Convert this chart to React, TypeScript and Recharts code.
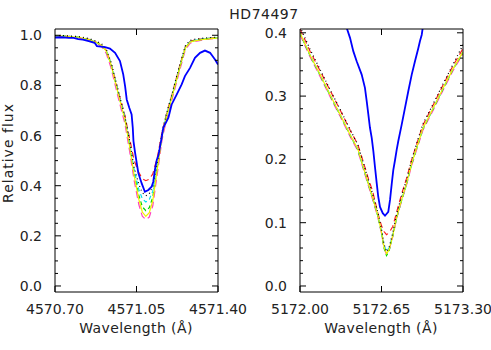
import React from 'react';
import { LineChart, Line, XAxis, YAxis } from 'recharts';

// Left panel: 4571 A line
const LEFT_WAVE = [4570.70, 4570.75, 4570.80, 4570.85, 4570.88, 4570.90, 4570.92, 4570.94, 4570.96, 4570.98, 4571.00, 4571.02, 4571.04, 4571.06, 4571.075, 4571.09, 4571.105, 4571.12, 4571.14, 4571.16, 4571.18, 4571.20, 4571.22, 4571.24, 4571.26, 4571.28, 4571.30, 4571.34, 4571.40];
const LEFT_MAGENTA = [0.997, 0.995, 0.990, 0.980, 0.967, 0.955, 0.928, 0.872, 0.795, 0.720, 0.648, 0.540, 0.420, 0.325, 0.278, 0.265, 0.275, 0.320, 0.452, 0.585, 0.668, 0.735, 0.805, 0.875, 0.943, 0.968, 0.975, 0.982, 0.989];
const LEFT_RED = [0.998, 0.996, 0.992, 0.983, 0.971, 0.961, 0.940, 0.890, 0.818, 0.748, 0.680, 0.590, 0.500, 0.452, 0.428, 0.420, 0.426, 0.447, 0.515, 0.615, 0.690, 0.755, 0.825, 0.893, 0.955, 0.975, 0.981, 0.987, 0.991];
const LEFT_GREEN = [0.998, 0.996, 0.992, 0.982, 0.970, 0.960, 0.938, 0.886, 0.812, 0.738, 0.668, 0.565, 0.450, 0.362, 0.316, 0.300, 0.312, 0.355, 0.478, 0.603, 0.682, 0.747, 0.817, 0.886, 0.951, 0.973, 0.979, 0.985, 0.990];
const LEFT_CYAN = [0.998, 0.996, 0.992, 0.982, 0.970, 0.960, 0.939, 0.888, 0.815, 0.742, 0.672, 0.572, 0.462, 0.385, 0.348, 0.335, 0.345, 0.378, 0.488, 0.607, 0.685, 0.750, 0.820, 0.888, 0.952, 0.974, 0.980, 0.986, 0.991];
const LEFT_YELLOW = [0.998, 0.996, 0.992, 0.982, 0.970, 0.960, 0.938, 0.885, 0.810, 0.735, 0.665, 0.560, 0.440, 0.345, 0.295, 0.278, 0.292, 0.340, 0.470, 0.600, 0.680, 0.745, 0.815, 0.885, 0.950, 0.972, 0.978, 0.984, 0.990];
const LEFT_BLACK = [0.999, 0.998, 0.995, 0.986, 0.975, 0.966, 0.945, 0.895, 0.822, 0.748, 0.678, 0.580, 0.472, 0.405, 0.372, 0.360, 0.368, 0.398, 0.497, 0.615, 0.692, 0.757, 0.828, 0.896, 0.958, 0.979, 0.984, 0.989, 0.993];

const LEFT_OBS_WAVE = [4570.700, 4570.730, 4570.760, 4570.780, 4570.800, 4570.820, 4570.845, 4570.870, 4570.880, 4570.915, 4570.936, 4570.958, 4570.979, 4570.993, 4571.001, 4571.008, 4571.019, 4571.029, 4571.034, 4571.037, 4571.044, 4571.058, 4571.072, 4571.086, 4571.101, 4571.115, 4571.122, 4571.129, 4571.137, 4571.144, 4571.158, 4571.165, 4571.187, 4571.201, 4571.223, 4571.244, 4571.258, 4571.280, 4571.301, 4571.323, 4571.344, 4571.366, 4571.387, 4571.400];
const LEFT_OBS = [0.991, 0.992, 0.990, 0.990, 0.985, 0.983, 0.977, 0.970, 0.957, 0.953, 0.947, 0.930, 0.897, 0.844, 0.797, 0.744, 0.711, 0.684, 0.631, 0.578, 0.531, 0.450, 0.410, 0.376, 0.383, 0.396, 0.416, 0.463, 0.503, 0.520, 0.591, 0.631, 0.671, 0.724, 0.764, 0.804, 0.837, 0.870, 0.910, 0.930, 0.939, 0.930, 0.903, 0.883];

// Right panel: 5172 A line
const RIGHT_WAVE = [5172.00, 5172.08, 5172.16, 5172.24, 5172.32, 5172.40, 5172.46, 5172.50, 5172.54, 5172.58, 5172.62, 5172.65, 5172.67, 5172.69, 5172.71, 5172.74, 5172.77, 5172.81, 5172.85, 5172.89, 5172.93, 5172.98, 5173.06, 5173.14, 5173.22, 5173.30];
const RIGHT_MAGENTA = [0.397, 0.362, 0.331, 0.299, 0.268, 0.236, 0.214, 0.188, 0.162, 0.136, 0.109, 0.083, 0.060, 0.050, 0.056, 0.078, 0.106, 0.134, 0.160, 0.190, 0.215, 0.246, 0.277, 0.309, 0.340, 0.367];
const RIGHT_RED = [0.406, 0.371, 0.340, 0.309, 0.278, 0.246, 0.224, 0.199, 0.173, 0.149, 0.116, 0.095, 0.086, 0.081, 0.084, 0.094, 0.116, 0.145, 0.170, 0.199, 0.224, 0.254, 0.285, 0.317, 0.348, 0.375];
const RIGHT_GREEN = [0.399, 0.364, 0.333, 0.301, 0.270, 0.238, 0.216, 0.190, 0.164, 0.138, 0.111, 0.084, 0.060, 0.048, 0.055, 0.079, 0.107, 0.135, 0.161, 0.192, 0.217, 0.248, 0.279, 0.311, 0.342, 0.369];
const RIGHT_CYAN = [0.400, 0.365, 0.334, 0.302, 0.271, 0.239, 0.217, 0.191, 0.165, 0.139, 0.112, 0.086, 0.065, 0.055, 0.060, 0.081, 0.108, 0.136, 0.162, 0.193, 0.218, 0.249, 0.280, 0.312, 0.343, 0.370];
const RIGHT_YELLOW = [0.400, 0.365, 0.334, 0.302, 0.271, 0.239, 0.217, 0.191, 0.165, 0.139, 0.112, 0.085, 0.062, 0.051, 0.057, 0.080, 0.108, 0.136, 0.162, 0.193, 0.218, 0.249, 0.280, 0.312, 0.343, 0.370];
const RIGHT_BLACK = [0.410, 0.374, 0.342, 0.310, 0.279, 0.247, 0.224, 0.198, 0.171, 0.145, 0.117, 0.090, 0.066, 0.054, 0.060, 0.084, 0.113, 0.142, 0.168, 0.199, 0.225, 0.256, 0.287, 0.319, 0.350, 0.381];

const RIGHT_OBS_WAVE = [5172.330, 5172.372, 5172.399, 5172.425, 5172.452, 5172.492, 5172.518, 5172.532, 5172.545, 5172.558, 5172.572, 5172.585, 5172.598, 5172.612, 5172.624, 5172.638, 5172.660, 5172.678, 5172.704, 5172.718, 5172.732, 5172.744, 5172.758, 5172.771, 5172.784, 5172.811, 5172.837, 5172.864, 5172.891, 5172.917, 5172.944, 5172.957, 5172.971, 5172.979, 5173.000];
const RIGHT_OBS = [0.460, 0.408, 0.392, 0.371, 0.355, 0.334, 0.313, 0.292, 0.271, 0.250, 0.234, 0.213, 0.188, 0.162, 0.141, 0.125, 0.115, 0.111, 0.117, 0.136, 0.162, 0.183, 0.199, 0.215, 0.229, 0.255, 0.281, 0.308, 0.334, 0.355, 0.376, 0.387, 0.397, 0.408, 0.450];

// ticks
const LEFT_X_TICKS = [4570.70, 4571.05, 4571.40];
const LEFT_Y_MAJOR = [0, 0.2, 0.4, 0.6, 0.8, 1.0];
const LEFT_Y_TICKS = [0, 0.05, 0.1, 0.15, 0.2, 0.25, 0.3, 0.35, 0.4, 0.45, 0.5, 0.55, 0.6, 0.65, 0.7, 0.75, 0.8, 0.85, 0.9, 0.95, 1.0];
const RIGHT_X_TICKS = [5172.00, 5172.65, 5173.30];
const RIGHT_Y_MAJOR = [0, 0.1, 0.2, 0.3, 0.4];
const RIGHT_Y_TICKS = [0, 0.02, 0.04, 0.06, 0.08, 0.1, 0.12, 0.14, 0.16, 0.18, 0.2, 0.22, 0.24, 0.26, 0.28, 0.3, 0.32, 0.34, 0.36, 0.38, 0.4];

const FONT = '"DejaVu Sans", sans-serif';
const TEXT = '#222';

const MODELS = [
  { key: 'magenta', stroke: '#ff40c0', dash: '7 4' },
  { key: 'red', stroke: '#ff2020', dash: '6 4' },
  { key: 'green', stroke: '#00d800', dash: '4 3' },
  { key: 'cyan', stroke: '#00e0f0', dash: '4 3' },
  { key: 'yellow', stroke: '#f0f000', dash: undefined },
  { key: 'black', stroke: '#000000', dash: '1 3' },
];

const leftRows = LEFT_WAVE.map((w, i) => ({
  w, magenta: LEFT_MAGENTA[i], red: LEFT_RED[i], green: LEFT_GREEN[i],
  cyan: LEFT_CYAN[i], yellow: LEFT_YELLOW[i], black: LEFT_BLACK[i],
}));
const leftObs = LEFT_OBS_WAVE.map((w, i) => ({ w, flux: LEFT_OBS[i] }));
const rightRows = RIGHT_WAVE.map((w, i) => ({
  w, magenta: RIGHT_MAGENTA[i], red: RIGHT_RED[i], green: RIGHT_GREEN[i],
  cyan: RIGHT_CYAN[i], yellow: RIGHT_YELLOW[i], black: RIGHT_BLACK[i],
}));
const rightObs = RIGHT_OBS_WAVE.map((w, i) => ({ w, flux: RIGHT_OBS[i] }));

const isMajor = (majors: number[], v: number) => majors.some((m) => Math.abs(m - v) < 1e-6);

// inward tick marks, IDL style
function tickFor(side: string, majors: number[], digits: number, labelled: boolean) {
  return (props: any) => {
    const { x, y, payload } = props;
    const v = payload.value;
    const len = isMajor(majors, v) ? 6 : 3;
    let mark;
    if (side === 'left') mark = <line x1={x} y1={y} x2={x + len} y2={y} stroke="#000" />;
    else if (side === 'right') mark = <line x1={x} y1={y} x2={x - len} y2={y} stroke="#000" />;
    else if (side === 'bottom') mark = <line x1={x} y1={y} x2={x} y2={y - len} stroke="#000" />;
    else mark = <line x1={x} y1={y} x2={x} y2={y + len} stroke="#000" />;
    let label = null;
    if (labelled && isMajor(majors, v)) {
      if (side === 'left') {
        label = <text x={x - 13} y={y + 5} textAnchor="end" fontSize={14} fontFamily={FONT} fill={TEXT}>{v.toFixed(digits)}</text>;
      } else if (side === 'bottom') {
        label = <text x={x} y={y + 22} textAnchor="middle" fontSize={14} fontFamily={FONT} fill={TEXT}>{v.toFixed(digits)}</text>;
      }
    }
    return <g>{mark}{label}</g>;
  };
}

function Panel({ x0, width, rows, obs, xDomain, xTicks, yDomain, yTicks, yMajor }: any) {
  const mid = [xTicks[1]];
  return (
    <div style={{ position: 'absolute', left: x0, top: 0 }}>
      <LineChart width={width} height={350} data={rows} margin={{ top: 28, right: width - 219, bottom: 28, left: 15 }}>
        <XAxis xAxisId="b" type="number" dataKey="w" domain={xDomain} allowDataOverflow ticks={xTicks} interval={0}
          tickSize={0} tickMargin={0} tickLine={false} axisLine={{ stroke: '#000' }} height={30}
          tick={tickFor('bottom', xTicks, 2, true)} />
        <XAxis xAxisId="t" orientation="top" type="number" dataKey="w" domain={xDomain} allowDataOverflow ticks={mid} interval={0}
          tickSize={0} tickMargin={0} tickLine={false} axisLine={{ stroke: '#000' }} height={1}
          tick={tickFor('top', mid, 2, false)} />
        <YAxis yAxisId="l" type="number" domain={yDomain} allowDataOverflow ticks={yTicks} interval={0}
          tickSize={0} tickMargin={0} tickLine={false} axisLine={{ stroke: '#000' }} width={40}
          tick={tickFor('left', yMajor, 1, true)} />
        <YAxis yAxisId="r" orientation="right" type="number" domain={yDomain} allowDataOverflow ticks={yTicks} interval={0}
          tickSize={0} tickMargin={0} tickLine={false} axisLine={{ stroke: '#000' }} width={1}
          tick={tickFor('right', yMajor, 1, false)} />
        {MODELS.map((m) => (
          <Line key={m.key} xAxisId="b" yAxisId="l" type="linear" dataKey={m.key} stroke={m.stroke}
            strokeWidth={1.2} strokeDasharray={m.dash} dot={false} isAnimationActive={false} />
        ))}
        <Line xAxisId="b" yAxisId="l" type="linear" data={obs} dataKey="flux" stroke="#0000ff"
          strokeWidth={1.8} dot={false} isAnimationActive={false} />
      </LineChart>
    </div>
  );
}

export default function App() {
  return (
    <div style={{ position: 'absolute', left: 0, top: 0, width: 491, height: 350, background: '#fff', overflow: 'hidden' }}>
      <Panel x0={0} width={262} rows={leftRows} obs={leftObs} xDomain={[4570.70, 4571.40]} xTicks={LEFT_X_TICKS}
        yDomain={[-0.024, 1.025]} yTicks={LEFT_Y_TICKS} yMajor={LEFT_Y_MAJOR} />
      <Panel x0={245} width={246} rows={rightRows} obs={rightObs} xDomain={[5172.00, 5173.30]} xTicks={RIGHT_X_TICKS}
        yDomain={[-0.0095, 0.406]} yTicks={RIGHT_Y_TICKS} yMajor={RIGHT_Y_MAJOR} />
      <svg width={491} height={350} style={{ position: 'absolute', left: 0, top: 0, pointerEvents: 'none' }}>
        <text x={264} y={19} textAnchor="middle" fontSize={14} fontFamily={FONT} fill={TEXT} letterSpacing={0.5}>HD74497</text>
        <text transform="translate(13,153) rotate(-90)" textAnchor="middle" fontSize={14} fontFamily={FONT} fill={TEXT} letterSpacing={1}>Relative flux</text>
        <text x={136} y={333} textAnchor="middle" fontSize={14} fontFamily={FONT} fill={TEXT} letterSpacing={0.4}>Wavelength (Å)</text>
        <text x={381} y={333} textAnchor="middle" fontSize={14} fontFamily={FONT} fill={TEXT} letterSpacing={0.4}>Wavelength (Å)</text>
      </svg>
    </div>
  );
}
